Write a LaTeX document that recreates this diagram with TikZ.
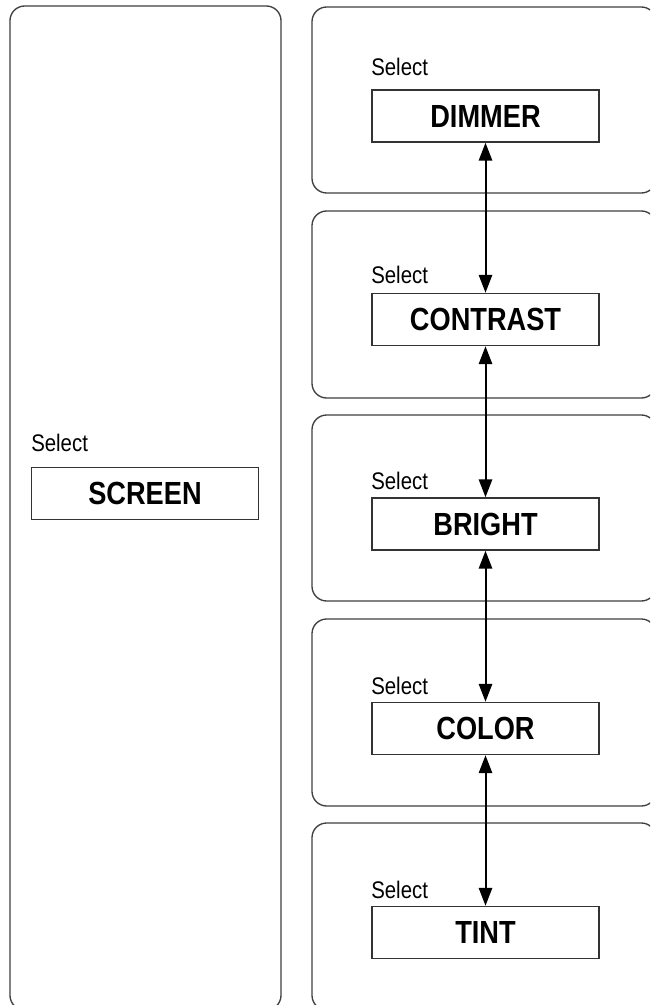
\documentclass[tikz,border=0pt]{standalone}
\usepackage{fontspec}
\setmainfont{Liberation Sans}[FakeStretch=0.85]
\usetikzlibrary{arrows.meta}

\tikzset{
  panel/.style={draw=black!75,line width=1pt,rounded corners=11pt},
  itembox/.style={draw=black!80,line width=1.1pt,minimum width=170pt,minimum height=39pt,
    inner sep=0pt,font=\fontsize{24}{24}\selectfont\bfseries},
  seltext/.style={anchor=base west,inner sep=0pt,font=\fontsize{18}{18}\selectfont},
  link/.style={{Triangle[length=13.5pt,width=10pt]}-{Triangle[length=13.5pt,width=10pt]},line width=1.5pt}
}

\begin{document}
\begin{tikzpicture}[x=.75pt,y=-.75pt]
    \clip (0,0) rectangle (650,1005);
    \fill[white] (0,0) rectangle (650,1005);

    %% panels
    \draw[panel] (10,6) rectangle (281,1010);
    \draw[panel] (312,7) rectangle (656,193);
    \draw[panel] (312,211) rectangle (656,398);
    \draw[panel] (312,415) rectangle (656,601);
    \draw[panel] (312,619) rectangle (656,806);
    \draw[panel] (312,823) rectangle (656,1010);

    %% left
    \node at (31,451) [seltext] (selscreen) {Select};
    \node at (145,493.5) [itembox] (screen) {SCREEN};

    %% right
    \node at (371,76) [seltext] (seldimmer) {Select};
    \node at (485.5,116) [itembox] (dimmer) {DIMMER};

    \node at (371,283) [seltext] (selcontrast) {Select};
    \node at (485.5,319.5) [itembox] (contrast) {CONTRAST};

    \node at (371,489) [seltext] (selbright) {Select};
    \node at (485.5,524) [itembox] (bright) {BRIGHT};

    \node at (371,694) [seltext] (selcolor) {Select};
    \node at (485.5,728.5) [itembox] (color) {COLOR};

    \node at (371,898) [seltext] (seltint) {Select};
    \node at (485.5,932.5) [itembox] (tint) {TINT};

    %% arrows
    \draw[link] (dimmer) -- (contrast);
    \draw[link] (contrast) -- (bright);
    \draw[link] (bright) -- (color);
    \draw[link] (color) -- (tint);
\end{tikzpicture}
\end{document}
